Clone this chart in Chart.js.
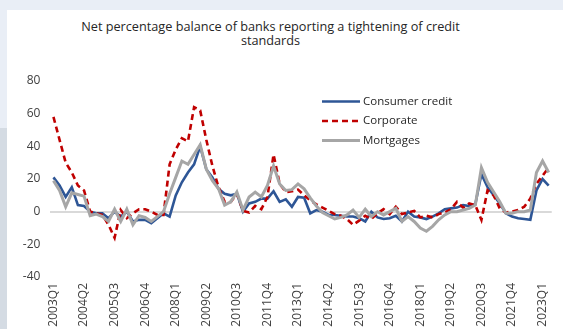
<!DOCTYPE html>
<html>
<head>
<meta charset="utf-8">
<script src="https://cdn.jsdelivr.net/npm/chart.js@4.4.1/dist/chart.umd.min.js"></script>
<style>
  html, body { margin: 0; padding: 0; }
  body { width: 563px; height: 329px; overflow: hidden; position: relative; background: #e9eef6; font-family: "Open Sans", sans-serif; }
  #strip { position: absolute; left: 0; top: 128px; width: 7px; bottom: 0; background: #d4dbe3; }
  #panel { position: absolute; left: 7px; top: 10px; right: 0; bottom: 0; background: #ffffff; }
  #title { position: absolute; left: 0; width: 541px; top: 20px; text-align: center; font-size: 12.7px; line-height: 13.5px; color: #262626; }
  #wrap { position: absolute; left: 0; top: 0; width: 563px; height: 340px; }
</style>
</head>
<body>
<div id="strip"></div>
<div id="panel"></div>
<div id="title">Net percentage balance of banks reporting a tightening of credit<br>standards</div>
<div id="wrap"><canvas id="chart" width="563" height="340"></canvas></div>
<script>
// quarters 2003Q1 .. 2023Q2
const quarters = [];
for (let y = 2003; y <= 2023; y++) {
  for (let q = 1; q <= 4; q++) {
    if (y === 2023 && q > 2) break;
    quarters.push(y + 'Q' + q);
  }
}

const consumerCredit = [
  21, 16, 9, 15, 4, 3.5, 0, -1, -1, -4,
  0, -3, 0, -6, -5, -5, -7, -4, -1, -3,
  10, 18, 24, 29, 40, 26, 21, 14, 11, 10,
  11, 0, 5, 6, 8, 8, 12.5, 6, 7.5, 3,
  9, 8.5, -1, 1, 0, -2, -2, -2.5, -3, -3,
  -4, -6, 0, -3.5, -4.5, -4, -2.5, -6, 0, -3,
  -3.5, -4.5, -3, -1, 1.5, 2, 2.5, 4, 3.5, 4.5,
  23, 15, 10, 5, -1, -3, -4, -4.5, -5, 13,
  20, 16
];

const corporate = [
  58, 44, 30, 24, 16, 13, 0, -1, -2, -8,
  -16, 1, -4, -1, 1.5, 1.5, 0, -2, -2, 29,
  38, 45, 43, 64, 62, 44, 28, 15, 6, 6,
  11, 0.5, -0.5, 3.5, 1.5, 9, 35, 17, 12, 12.5,
  13.5, 10, 7, 4.5, 2.5, 0.5, -1.5, -2.5, -4.5, -8,
  -5.5, -2.5, -4.5, -1, 1.5, -1.5, 3, -1.5, -0.5, 0.5,
  -3.5, -2.5, -3.5, -1.5, -0.5, 1.5, 6, 2.5, 5, 4,
  -5, 13, 10, 2, -0.5, 0, 1, 3, 8, 17,
  22, 27
];

const mortgages = [
  19, 13, 3, 11.5, 10.5, 9.5, -2.5, -1.5, -3, -6,
  1.5, -6, 1.5, -8, -2.5, -3.5, -6, -3, 0, 11,
  21, 31, 29, 35, 41, 26, 19, 14, 4, 6,
  12, 1, 9, 12, 9, 16, 28, 17, 13, 13.5,
  17, 14, 8.5, 3.5, -0.5, -2.5, -4.5, -3.5, -2, 1,
  -3.5, 1.5, -3, 0, -2, 0, 2, -6, -3, -6,
  -10, -12, -9, -5, -2, 0, 0, 1, 2, 4,
  27, 18, 12, 6, -1, -1, 0, 0, 1, 24,
  31, 24
];

const yTicks = { min: -40, max: 80, step: 20 };
const font = '"Open Sans"';

// legend drawn inside the plot, upper right
const insetLegend = {
  id: 'insetLegend',
  afterDatasetsDraw(chart) {
    const ctx = chart.ctx;
    ctx.save();
    ctx.font = '11.5px ' + font;
    ctx.fillStyle = '#262626';
    ctx.textBaseline = 'middle';
    chart.data.datasets.forEach((ds, i) => {
      const y = 101.5 + i * 19.5;
      ctx.strokeStyle = ds.borderColor;
      ctx.lineWidth = ds.borderWidth;
      ctx.setLineDash(ds.borderDash || []);
      ctx.beginPath();
      ctx.moveTo(322, y);
      ctx.lineTo(360, y);
      ctx.stroke();
      ctx.setLineDash([]);
      ctx.fillText(ds.label, 363, y);
    });
    ctx.restore();
  }
};

new Chart(document.getElementById('chart'), {
  type: 'line',
  data: {
    labels: quarters,
    datasets: [
      { label: 'Consumer credit', data: consumerCredit, borderColor: '#2e5696', borderWidth: 2.6, order: 2 },
      { label: 'Corporate', data: corporate, borderColor: '#c00000', borderWidth: 2.6, borderDash: [6, 4], order: 1 },
      { label: 'Mortgages', data: mortgages, borderColor: '#a6a6a6', borderWidth: 3, order: 0 }
    ]
  },
  options: {
    responsive: false,
    animation: false,
    elements: { point: { radius: 0 }, line: { tension: 0 } },
    layout: { padding: { left: 0, right: 2, top: 81, bottom: 0 } },
    plugins: { legend: { display: false }, title: { display: false }, tooltip: { enabled: false } },
    scales: {
      x: {
        offset: true,
        grid: { display: false, drawTicks: false },
        border: { display: false },
        afterFit: s => { s.height = 63; },
        ticks: {
          autoSkip: false,
          minRotation: 90,
          maxRotation: 90,
          padding: 6,
          color: '#404040',
          font: { family: font, size: 12 },
          callback: (v, i) => (i % 5 === 0 ? quarters[i] : null)
        }
      },
      y: {
        min: yTicks.min,
        max: yTicks.max,
        afterFit: s => { s.width = 50.4; },
        grid: {
          drawTicks: false,
          lineWidth: 2,
          color: c => (c.tick && c.tick.value === 0 ? '#d9d9d9' : 'rgba(0,0,0,0)')
        },
        border: { display: false },
        ticks: {
          stepSize: yTicks.step,
          padding: 10,
          color: '#404040',
          font: { family: font, size: 12 }
        }
      }
    }
  },
  plugins: [insetLegend]
});
</script>
</body>
</html>
